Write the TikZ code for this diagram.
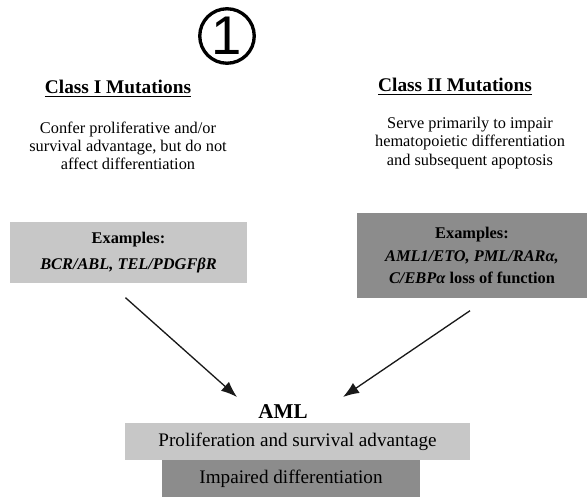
\documentclass[tikz,border=0pt]{standalone}
\usepackage{fontspec}
\setmainfont{Liberation Serif}
\setsansfont{Liberation Sans}
\usetikzlibrary{arrows.meta,positioning}

\begin{document}
\begin{tikzpicture}[thick]

   \tikzstyle{head}=[font=\fontsize{11}{12}\selectfont\bfseries, inner sep=1pt]
   \tikzstyle{desc}=[font=\fontsize{9.3}{10.4}\selectfont, align=center, inner sep=1pt]
   \tikzstyle{light}=[rectangle, fill=black!22, text=black, align=center, inner sep=0pt]
   \tikzstyle{dark}=[rectangle, fill=black!45, text=black, align=center, inner sep=0pt]
   \tikzstyle{link}=[-{Latex[length=3.2mm, width=2.4mm]}, black!90, line width=0.75pt]

   \useasboundingbox (0,0) rectangle (11.74,-9.96);

   \node[circle, draw, line width=1.9pt, minimum size=31pt, inner sep=0pt,
         font=\fontsize{31}{31}\selectfont\sffamily] (num) at (4.54,-0.72) {1};

   \node[head] (h1) at (2.36,-1.78) {\underline{Class I Mutations}};
   \node[desc] (d1) at (2.56,-2.92) {Confer proliferative and/or\\survival advantage, but do not\\affect differentiation};

   \node[head] (h2) at (9.10,-1.74) {\underline{Class II Mutations}};
   \node[desc] (d2) at (9.40,-2.86) {Serve primarily to impair\\hematopoietic differentiation\\and subsequent apoptosis};

   \node[light, minimum width=4.74cm, minimum height=1.22cm,
         font=\fontsize{9.3}{14.6}\selectfont\bfseries] (ex1) at (2.57,-5.05)
         {Examples:\\\textit{BCR/ABL, TEL/PDGFβR}};
   \node[dark, minimum width=4.6cm, minimum height=1.7cm,
         font=\fontsize{9.3}{12.8}\selectfont\bfseries] (ex2) at (9.44,-5.11)
         {Examples:\\\textit{AML1/ETO, PML/RARα,}\\\textit{C/EBPα} loss of function};

   \node[font=\fontsize{12}{14}\selectfont\bfseries, inner sep=1pt] (aml) at (5.66,-8.24) {AML};
   \node[light, minimum width=6.9cm, minimum height=0.74cm,
         font=\fontsize{10.9}{12}\selectfont] (prolif) at (5.95,-8.83) {Proliferation and survival advantage};
   \node[dark, minimum width=5.16cm, minimum height=0.74cm,
         font=\fontsize{10.9}{12}\selectfont] (impair) at (5.82,-9.57) {Impaired differentiation};

   % arrows into AML
   \coordinate (in1) at (4.74,-7.94);
   \coordinate (in2) at (6.86,-7.94);
   \draw[link] ([xshift=-0.06cm, yshift=-0.28cm]ex1.south) -- (in1);
   \draw[link] ([xshift=-0.04cm, yshift=-0.24cm]ex2.south) -- (in2);
\end{tikzpicture}
\end{document}
